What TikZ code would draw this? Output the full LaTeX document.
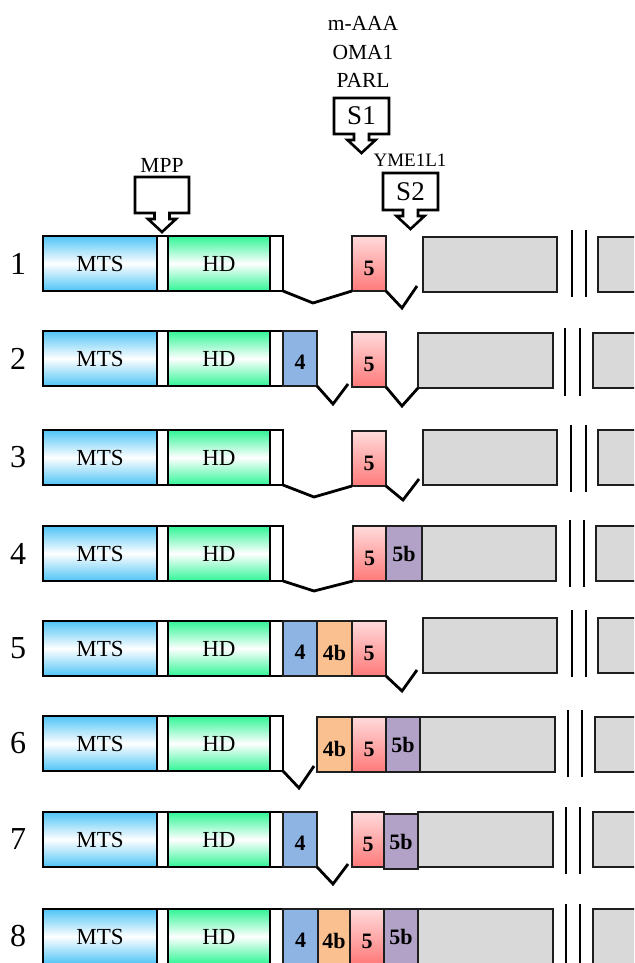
\documentclass[tikz,border=0pt]{standalone}
\usepackage{fontspec}
\setmainfont{Liberation Serif}
\definecolor{mtsblue}{RGB}{79,196,246}
\definecolor{hdgreen}{RGB}{48,245,150}
\definecolor{pinktop}{RGB}{255,218,218}
\definecolor{pinkbot}{RGB}{255,122,122}
\definecolor{blue4}{RGB}{142,180,227}
\definecolor{orange4b}{RGB}{250,192,144}
\definecolor{purple5b}{RGB}{179,162,199}
\definecolor{greyc}{RGB}{217,217,217}
\definecolor{edgec}{RGB}{30,30,30}
\tikzset{
  seg/.style={draw=edgec, line width=1.3pt, inner sep=0pt, outer sep=0pt, anchor=north west,
    minimum height=55pt, font=\fontsize{22}{22}\selectfont\bfseries},
  mtsbox/.style={seg, draw=black, line width=2.5pt, minimum width=114pt, top color=mtsblue, bottom color=mtsblue, middle color=white,
    font=\fontsize{23}{23}\selectfont},
  hdbox/.style={seg, draw=black, line width=2pt, minimum width=102pt, top color=hdgreen, bottom color=hdgreen, middle color=white,
    font=\fontsize{23}{23}\selectfont},
  wbox/.style={seg, draw=black, line width=1.6pt, fill=white},
  b4/.style={seg, fill=blue4, minimum width=34pt, text height=21pt},
  b4b/.style={seg, fill=orange4b, minimum width=35pt, text height=25pt},
  b5/.style={seg, top color=pinktop, bottom color=pinkbot, minimum width=34pt, text height=24pt},
  b5b/.style={seg, fill=purple5b, minimum width=34pt, text height=17pt},
  gbox/.style={seg, fill=greyc, minimum width=134pt},
  hbox/.style={seg, fill=greyc, minimum width=50pt},
  rowlbl/.style={font=\fontsize{32}{32}\selectfont, inner sep=0pt},
  link/.style={line width=2.8pt, line join=miter},
  brk/.style={line width=2.2pt},
  cbox/.style={inner sep=0pt, outer sep=0pt, font=\fontsize{27}{27}\selectfont},
  ctext/.style={inner sep=0pt, font=\fontsize{21.5}{21.5}\selectfont},
  cline/.style={line width=2.6pt, line join=miter, fill=white}
}
\newcommand{\leftpart}[2]{%
  \node[rowlbl] (n#1) at (18,#2+27.5) {#1};
  \node[mtsbox] (mts#1) at (43,#2) {MTS};
  \node[wbox, minimum width=11pt] (wa#1) at (157,#2) {};
  \node[hdbox] (hd#1) at (168,#2) {HD};
  \node[wbox, minimum width=13pt] (wb#1) at (270,#2) {};
}
% #1 centre x, #2 top y, #3 bottom y, #4 half width
\newcommand{\calloutshape}[4]{%
  \draw[cline] (#1-#4,#2) -- (#1+#4,#2) -- (#1+#4,#3) -- (#1+7.5,#3) -- (#1+7.5,#3+6)
    -- (#1+14,#3+6) -- (#1,#3+19) -- (#1-14,#3+6) -- (#1-7.5,#3+6) -- (#1-7.5,#3)
    -- (#1-#4,#3) -- cycle;
}
\begin{document}
\begin{tikzpicture}[x=1pt,y=-1pt]
\useasboundingbox (0,0) rectangle (634,963);
\clip (0,0) rectangle (634,963);
% ---- callouts ----
\node[ctext] (maaa) at (363,23) {m-AAA};
\node[ctext] (oma) at (363,52) {OMA1};
\node[ctext] (parl) at (363,80) {PARL};
\calloutshape{361.5}{98}{134}{27.5}
\node[cbox] (s1) at (361.5,116) {S1};
\node[ctext] (mpp) at (162,165) {MPP};
\calloutshape{162}{177}{213}{27}
\node[ctext, font=\fontsize{19}{19}\selectfont] (yme) at (410,160) {YME1L1};
\calloutshape{410.5}{173}{210}{27.5}
\node[cbox] (s2) at (410.5,191.5) {S2};
% ---- row 1 ----
\leftpart{1}{236}
\node[b5] (p1) at (352,236) {5};
\node[gbox] (g1) at (423,237) {};
\node[hbox] (h1) at (598,237) {};
\draw[brk] (572,230) -- (572,297);
\draw[brk] (586,230) -- (586,297);
\draw[link] (wb1.south east) -- (313,303) -- (p1.south west);
\draw[link] (p1.south east) -- ++(16,17) -- ++(15,-22);
% ---- row 2 ----
\leftpart{2}{331}
\node[b4] (q2) at (283,331) {4};
\node[b5] (p2) at (352,332) {5};
\node[gbox, minimum width=135pt] (g2) at (418,333) {};
\node[hbox] (h2) at (593,333) {};
\draw[brk] (565,328) -- (565,396);
\draw[brk] (580,328) -- (580,396);
\draw[link] (q2.south east) -- ++(16,18) -- ++(15,-20);
\draw[link] (p2.south east) -- ++(16,19) -- (g2.south west);
% ---- row 3 ----
\leftpart{3}{430}
\node[b5] (p3) at (352,431) {5};
\node[gbox] (g3) at (423,430) {};
\node[hbox] (h3) at (598,430) {};
\draw[brk] (571,425) -- (571,492);
\draw[brk] (586,425) -- (586,492);
\draw[link] (wb3.south east) -- (314,497) -- (p3.south west);
\draw[link] (p3.south east) -- ++(17,14) -- ++(16,-21);
% ---- row 4 ----
\leftpart{4}{526}
\node[b5, minimum width=33pt] (p4) at (353,526) {5};
\node[b5b, minimum width=36pt] (r4) at (386,526) {5b};
\node[gbox] (g4) at (422,526) {};
\node[hbox] (h4) at (596,526) {};
\draw[brk] (570,520) -- (570,587);
\draw[brk] (584,520) -- (584,587);
\draw[link] (wb4.south east) -- (314,591) -- (p4.south west);
% ---- row 5 ----
\leftpart{5}{621}
\node[b4] (q5) at (283,621) {4};
\node[b4b] (o5) at (317,621) {4b};
\node[b5] (p5) at (352,621) {5};
\node[gbox] (g5) at (423,618) {};
\node[hbox] (h5) at (598,618) {};
\draw[brk] (572,610) -- (572,677);
\draw[brk] (586,610) -- (586,677);
\draw[link] (p5.south east) -- ++(16,15) -- ++(15,-21);
% ---- row 6 ----
\leftpart{6}{716}
\node[b4b] (o6) at (317,717) {4b};
\node[b5] (p6) at (352,717) {5};
\node[b5b] (r6) at (386,717) {5b};
\node[gbox, minimum width=135pt] (g6) at (420,717) {};
\node[hbox] (h6) at (595,717) {};
\draw[brk] (568,710) -- (568,777);
\draw[brk] (582,710) -- (582,777);
\draw[link] (wb6.south east) -- ++(16,17) -- ++(15,-22);
% ---- row 7 ----
\leftpart{7}{812}
\node[b4] (q7) at (283,812) {4};
\node[b5, minimum width=32pt] (p7) at (352,812) {5};
\node[b5b] (r7) at (384,814) {5b};
\node[gbox, minimum width=135pt] (g7) at (418,812) {};
\node[hbox] (h7) at (593,812) {};
\draw[brk] (566,807) -- (566,874);
\draw[brk] (580,807) -- (580,874);
\draw[link] (q7.south east) -- ++(16,17) -- ++(15,-20);
% ---- row 8 ----
\leftpart{8}{909}
\node[b4, minimum width=35pt] (q8) at (283,909) {4};
\node[b4b, minimum width=32pt] (o8) at (318,909) {4b};
\node[b5] (p8) at (350,909) {5};
\node[b5b] (r8) at (384,909) {5b};
\node[gbox, minimum width=135pt] (g8) at (418,909) {};
\node[hbox] (h8) at (593,909) {};
\draw[brk] (566,904) -- (566,975);
\draw[brk] (580,904) -- (580,975);
\end{tikzpicture}
\end{document}
